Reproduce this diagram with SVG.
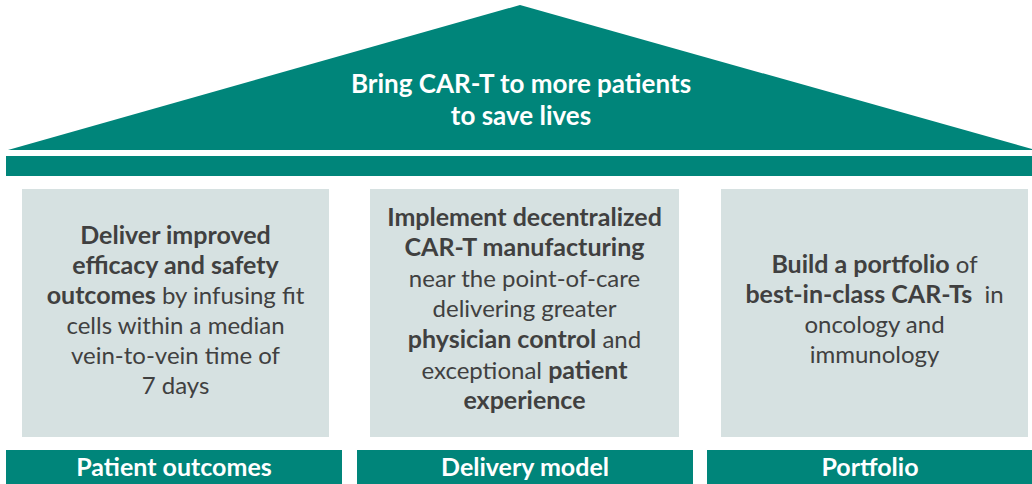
<svg xmlns="http://www.w3.org/2000/svg" width="1032" height="484" viewBox="0 0 1032 484">
<style>
.teal{fill:#00857A}
.pillar{fill:#D6E1E1}
.t{font-family:Lato,"Noto Sans",sans-serif;font-size:24px;fill:#404040;text-anchor:middle}
.b{font-weight:bold;font-size:25px}
.w{font-family:Lato,"Noto Sans",sans-serif;font-weight:bold;fill:#FFFFFF;text-anchor:middle}
</style>
<rect width="1032" height="484" fill="#FFFFFF"/>
<g id="roof">
<polygon class="teal" points="8,150 520,5 1032,149 1032,150"/>
<text class="w" font-size="26" x="521" y="93">Bring CAR-T to more patients</text>
<text class="w" font-size="26" x="521" y="125">to save lives</text>
</g>
<g id="beam"><rect class="teal" x="6" y="156" width="1026" height="20"/></g>
<g id="pillar1">
<rect class="pillar" x="22" y="189" width="307" height="248"/>
<text class="t" x="175.5" y="244"><tspan class="b">Deliver improved</tspan></text>
<text class="t" x="175.5" y="274"><tspan class="b">efficacy and safety</tspan></text>
<text class="t" x="175.5" y="304"><tspan class="b">outcomes</tspan> by infusing fit</text>
<text class="t" x="175.5" y="334">cells within a median</text>
<text class="t" x="175.5" y="364">vein-to-vein time of</text>
<text class="t" x="175.5" y="394">7 days</text>
</g>
<g id="pillar2">
<rect class="pillar" x="370" y="189" width="309" height="248"/>
<text class="t" x="524.5" y="226"><tspan class="b">Implement decentralized</tspan></text>
<text class="t" x="524.5" y="256"><tspan class="b">CAR-T manufacturing</tspan></text>
<text class="t" x="524.5" y="287">near the point-of-care</text>
<text class="t" x="524.5" y="317">delivering greater</text>
<text class="t" x="524.5" y="348"><tspan class="b">physician control</tspan> and</text>
<text class="t" x="524.5" y="379">exceptional <tspan class="b">patient</tspan></text>
<text class="t" x="524.5" y="409"><tspan class="b">experience</tspan></text>
</g>
<g id="pillar3">
<rect class="pillar" x="721" y="189" width="307" height="248"/>
<text class="t" x="874.5" y="273"><tspan class="b">Build a portfolio</tspan> of</text>
<text class="t" x="874.5" y="303"><tspan class="b">best-in-class CAR-Ts</tspan><tspan dx="6"> in</tspan></text>
<text class="t" x="874.5" y="333">oncology and</text>
<text class="t" x="874.5" y="363">immunology</text>
</g>
<g id="base1"><rect class="teal" x="6" y="450" width="336" height="34"/><text class="w" font-size="25" x="174" y="476">Patient outcomes</text></g>
<g id="base2"><rect class="teal" x="357" y="450" width="336" height="34"/><text class="w" font-size="25" x="525" y="476">Delivery model</text></g>
<g id="base3"><rect class="teal" x="707" y="450" width="325" height="34"/><text class="w" font-size="25" x="870" y="476">Portfolio</text></g>
<g id="connectors"/>
</svg>
